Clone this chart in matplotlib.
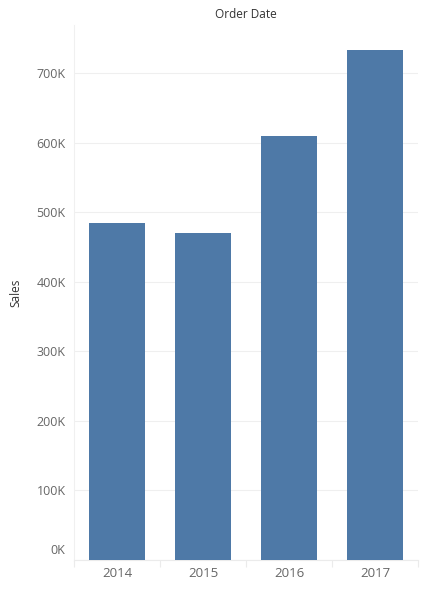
"""Sales by order year, Tableau style bar chart"""

import matplotlib
matplotlib.use("Agg")
from matplotlib import pyplot as plt
from matplotlib.transforms import ScaledTranslation

years = ['2014', '2015', '2016', '2017']
sales = [484247, 470533, 609206, 733215]
y_ticks = [0, 100000, 200000, 300000, 400000, 500000, 600000, 700000]
y_tick_labels = ['0K', '100K', '200K', '300K', '400K', '500K', '600K', '700K']

plt.rcParams['font.family'] = ['Open Sans', 'DejaVu Sans']

fig = plt.figure(figsize=(4.34, 5.93), dpi=100)
ax = fig.add_axes([74 / 434, 1 - 560 / 593, 344 / 434, 535 / 593])

x = range(len(years))
ax.bar(x, sales, width=0.64, color='#4e79a7', zorder=3)

ax.set_xlim(-0.5, len(years) - 0.5)
ax.set_ylim(0, 769000)

# Axis formatting
ax.set_yticks(y_ticks)
ax.set_yticklabels(y_tick_labels, fontsize=9, color='#666666')
ax.set_xticks(list(x))
ax.set_xticklabels(years, fontsize=9.5, color='#666666')
ax.tick_params(axis='both', length=0, pad=6)
ax.tick_params(axis='x', pad=5)
ax.set_xticks([i - 0.5 for i in range(len(years) + 1)], minor=True)
ax.tick_params(axis='x', which='minor', length=5, color='#ebebeb', width=0.8)

ax.grid(axis='y', color='#efefef', linewidth=0.8, zorder=0)
for side in ['top', 'right']:
    ax.spines[side].set_visible(False)
ax.spines['left'].set_color('#f0f0f0')
ax.spines['bottom'].set_color('#ebebeb')

# Tableau nudges the zero label up
lbl = ax.get_yticklabels()[0]
lbl.set_transform(lbl.get_transform() + ScaledTranslation(0, 8 / 72, fig.dpi_scale_trans))

fig.text(16 / 434, 1 - 293 / 593, 'Sales', rotation=90, ha='center', va='center',
         fontsize=8.5, color='#333333')
fig.text(246 / 434, 1 - 15 / 593, 'Order Date', ha='center', va='center',
         fontsize=8.5, color='#333333')

plt.savefig('out.png', dpi=100)
